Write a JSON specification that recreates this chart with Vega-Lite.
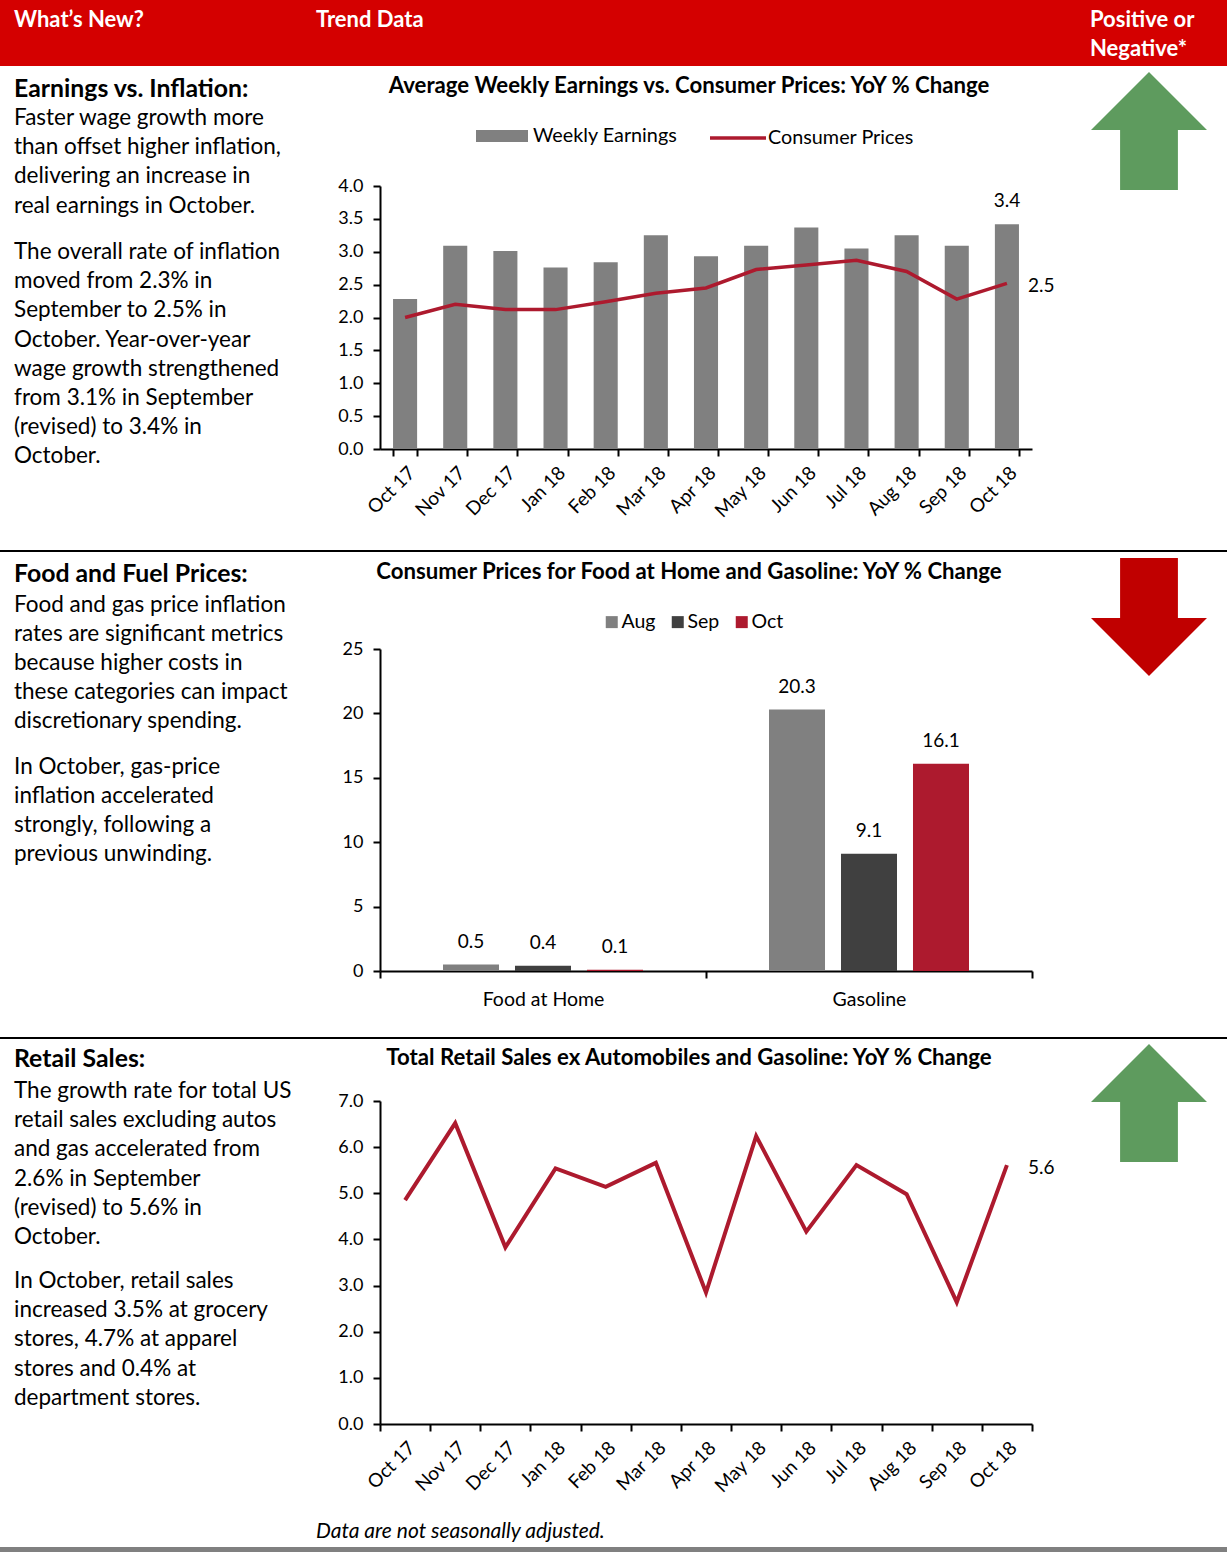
{
  "$schema": "https://vega.github.io/schema/vega-lite/v6.json",
  "width": 1227,
  "height": 1552,
  "autosize": {"type": "none"},
  "padding": 0,
  "background": "#ffffff",
  "config": {
    "view": {"stroke": null},
    "font": "Lato",
    "axis": {"domainColor": "#000000", "domainWidth": 2, "tickColor": "#000000", "tickWidth": 2, "tickSize": 7, "labelColor": "#000000", "labelFontSize": 16, "labelFont": "Lato", "grid": false},
    "legend": {"labelFont": "Lato", "labelFontSize": 18, "labelColor": "#000000", "padding": 0}
  },
  "datasets": {
    "notes": [
      {"section": 1, "part": "heading", "text": "Earnings vs. Inflation:"},
      {"section": 1, "part": "p1", "text": "Faster wage growth more\nthan offset higher inflation,\ndelivering an increase in\nreal earnings in October."},
      {"section": 1, "part": "p2", "text": "The overall rate of inflation\nmoved from 2.3% in\nSeptember to 2.5% in\nOctober. Year-over-year\nwage growth strengthened\nfrom 3.1% in September\n(revised) to 3.4% in\nOctober."},
      {"section": 2, "part": "heading", "text": "Food and Fuel Prices:"},
      {"section": 2, "part": "p1", "text": "Food and gas price inflation\nrates are significant metrics\nbecause higher costs in\nthese categories can impact\ndiscretionary spending."},
      {"section": 2, "part": "p2", "text": "In October, gas-price\ninflation accelerated\nstrongly, following a\nprevious unwinding."},
      {"section": 3, "part": "heading", "text": "Retail Sales:"},
      {"section": 3, "part": "p1", "text": "The growth rate for total US\nretail sales excluding autos\nand gas accelerated from\n2.6% in September\n(revised) to 5.6% in\nOctober."},
      {"section": 3, "part": "p2", "text": "In October, retail sales\nincreased 3.5% at grocery\nstores, 4.7% at apparel\nstores and 0.4% at\ndepartment stores."}
    ],
    "earnings": [
      {"month": "Oct 17", "series": "Weekly Earnings", "value": 2.28},
      {"month": "Nov 17", "series": "Weekly Earnings", "value": 3.09},
      {"month": "Dec 17", "series": "Weekly Earnings", "value": 3.01},
      {"month": "Jan 18", "series": "Weekly Earnings", "value": 2.76},
      {"month": "Feb 18", "series": "Weekly Earnings", "value": 2.84},
      {"month": "Mar 18", "series": "Weekly Earnings", "value": 3.25},
      {"month": "Apr 18", "series": "Weekly Earnings", "value": 2.93},
      {"month": "May 18", "series": "Weekly Earnings", "value": 3.09},
      {"month": "Jun 18", "series": "Weekly Earnings", "value": 3.37},
      {"month": "Jul 18", "series": "Weekly Earnings", "value": 3.05},
      {"month": "Aug 18", "series": "Weekly Earnings", "value": 3.25},
      {"month": "Sep 18", "series": "Weekly Earnings", "value": 3.09},
      {"month": "Oct 18", "series": "Weekly Earnings", "value": 3.42},
      {"month": "Oct 17", "series": "Consumer Prices", "value": 2.0},
      {"month": "Nov 17", "series": "Consumer Prices", "value": 2.2},
      {"month": "Dec 17", "series": "Consumer Prices", "value": 2.12},
      {"month": "Jan 18", "series": "Consumer Prices", "value": 2.12},
      {"month": "Feb 18", "series": "Consumer Prices", "value": 2.24},
      {"month": "Mar 18", "series": "Consumer Prices", "value": 2.37},
      {"month": "Apr 18", "series": "Consumer Prices", "value": 2.45},
      {"month": "May 18", "series": "Consumer Prices", "value": 2.73},
      {"month": "Jun 18", "series": "Consumer Prices", "value": 2.8},
      {"month": "Jul 18", "series": "Consumer Prices", "value": 2.87},
      {"month": "Aug 18", "series": "Consumer Prices", "value": 2.7},
      {"month": "Sep 18", "series": "Consumer Prices", "value": 2.28},
      {"month": "Oct 18", "series": "Consumer Prices", "value": 2.52}
    ],
    "foodfuel": [
      {"category": "Food at Home", "month": "Aug", "value": 0.5},
      {"category": "Food at Home", "month": "Sep", "value": 0.4},
      {"category": "Food at Home", "month": "Oct", "value": 0.1},
      {"category": "Gasoline", "month": "Aug", "value": 20.3},
      {"category": "Gasoline", "month": "Sep", "value": 9.1},
      {"category": "Gasoline", "month": "Oct", "value": 16.1}
    ],
    "retail": [
      {"month": "Oct 17", "value": 4.85},
      {"month": "Nov 17", "value": 6.52},
      {"month": "Dec 17", "value": 3.83},
      {"month": "Jan 18", "value": 5.54},
      {"month": "Feb 18", "value": 5.14},
      {"month": "Mar 18", "value": 5.66},
      {"month": "Apr 18", "value": 2.85},
      {"month": "May 18", "value": 6.24},
      {"month": "Jun 18", "value": 4.17},
      {"month": "Jul 18", "value": 5.61},
      {"month": "Aug 18", "value": 4.98},
      {"month": "Sep 18", "value": 2.64},
      {"month": "Oct 18", "value": 5.61}
    ]
  },
  "layer": [
    {
      "data": {"values": [{"band": "header"}]},
      "mark": {"type": "rect", "color": "#D40000"},
      "encoding": {
        "y": {"field": "band", "type": "nominal", "scale": {"type": "band", "range": [0, 66], "paddingInner": 0, "paddingOuter": 0}, "axis": null}
      }
    },
    {
      "data": {"values": [{"col": 1, "label": "What’s New?"}, {"col": 2, "label": "Trend Data"}, {"col": 3, "label": "Positive or\nNegative*"}]},
      "mark": {"type": "text", "align": "left", "baseline": "alphabetic", "fontWeight": "bold", "fontSize": 22, "color": "#ffffff", "lineBreak": "\n", "lineHeight": 29},
      "encoding": {
        "x": {"field": "col", "type": "quantitative", "scale": {"domain": [1, 2, 3], "range": [14, 316, 1090], "nice": false, "zero": false}, "axis": null},
        "y": {"field": "col", "type": "ordinal", "scale": {"type": "point", "range": [27, 27]}, "axis": null},
        "text": {"field": "label"}
      }
    },
    {
      "data": {"values": [{"boundary": "after earnings"}, {"boundary": "after food and fuel"}]},
      "mark": {"type": "rule", "color": "#000000", "strokeWidth": 2},
      "encoding": {
        "y": {"field": "boundary", "type": "nominal", "sort": null, "scale": {"type": "point", "range": [551, 1038], "padding": 0}, "axis": null}
      }
    },
    {
      "data": {"values": [{"edge": "bottom"}]},
      "mark": {"type": "rule", "color": "#808080", "strokeWidth": 5},
      "encoding": {
        "y": {"field": "edge", "type": "nominal", "scale": {"type": "point", "range": [1549.5, 1549.5]}, "axis": null}
      }
    },
    {
      "data": {"name": "notes"},
      "transform": [{"filter": "datum.part === 'heading'"}],
      "mark": {"type": "text", "align": "left", "baseline": "alphabetic", "fontWeight": "bold", "fontSize": 24.8, "color": "#000000"},
      "encoding": {
        "x": {"field": "section", "type": "ordinal", "scale": {"type": "point", "range": [14, 14]}, "axis": null},
        "y": {"field": "section", "type": "ordinal", "scale": {"type": "point", "range": [97, 1067], "padding": 0}, "axis": null},
        "text": {"field": "text"}
      }
    },
    {
      "data": {"name": "notes"},
      "transform": [{"filter": "datum.part === 'p1'"}],
      "mark": {"type": "text", "align": "left", "baseline": "alphabetic", "fontSize": 22.5, "color": "#000000", "lineBreak": "\n", "lineHeight": 29.2},
      "encoding": {
        "x": {"field": "section", "type": "ordinal", "scale": {"type": "point", "range": [14, 14]}, "axis": null},
        "y": {"field": "section", "type": "ordinal", "scale": {"type": "point", "range": [125, 1098], "padding": 0}, "axis": null},
        "text": {"field": "text"}
      }
    },
    {
      "data": {"name": "notes"},
      "transform": [{"filter": "datum.part === 'p2'"}],
      "mark": {"type": "text", "align": "left", "baseline": "alphabetic", "fontSize": 22.5, "color": "#000000", "lineBreak": "\n", "lineHeight": 29.2},
      "encoding": {
        "x": {"field": "section", "type": "ordinal", "scale": {"type": "point", "range": [14, 14]}, "axis": null},
        "y": {"field": "section", "type": "ordinal", "scale": {"type": "point", "range": [259, 1288], "padding": 0}, "axis": null},
        "text": {"field": "text"}
      }
    },
    {
      "data": {"values": [
        {"section": 1, "title": "Average Weekly Earnings vs. Consumer Prices: YoY % Change"},
        {"section": 2, "title": "Consumer Prices for Food at Home and Gasoline: YoY % Change"},
        {"section": 3, "title": "Total Retail Sales ex Automobiles and Gasoline: YoY % Change"}
      ]},
      "mark": {"type": "text", "align": "center", "baseline": "alphabetic", "fontWeight": "bold", "fontSize": 22.2, "color": "#000000"},
      "encoding": {
        "x": {"field": "section", "type": "ordinal", "scale": {"type": "point", "range": [689, 689]}, "axis": null},
        "y": {"field": "section", "type": "ordinal", "scale": {"type": "point", "range": [93, 1065], "padding": 0}, "axis": null},
        "text": {"field": "title"}
      }
    },
    {
      "data": {"values": [{"note": "Data are not seasonally adjusted."}]},
      "mark": {"type": "text", "align": "left", "baseline": "alphabetic", "fontStyle": "italic", "fontSize": 21, "color": "#000000"},
      "encoding": {
        "x": {"field": "note", "type": "nominal", "scale": {"type": "point", "range": [316, 316]}, "axis": null},
        "y": {"field": "note", "type": "nominal", "scale": {"type": "point", "range": [1538, 1538]}, "axis": null},
        "text": {"field": "note"}
      }
    },
    {
      "data": {"values": [
        {"section": 1, "direction": "up", "signal": "positive"},
        {"section": 2, "direction": "down", "signal": "negative"},
        {"section": 3, "direction": "up", "signal": "positive"}
      ]},
      "mark": {"type": "point", "filled": true, "size": 13924, "strokeWidth": 0, "opacity": 1},
      "encoding": {
        "x": {"field": "section", "type": "ordinal", "scale": {"type": "point", "range": [1149, 1149]}, "axis": null},
        "y": {"field": "section", "type": "ordinal", "scale": {"type": "point", "range": [131, 1103], "padding": 0}, "axis": null},
        "shape": {"field": "direction", "type": "nominal", "scale": {"domain": ["up", "down"], "range": ["M0,-1L0.983,-0.017L0.49,-0.017L0.49,1L-0.49,1L-0.49,-0.017L-0.983,-0.017Z", "M-0.49,-1L0.49,-1L0.49,0.017L0.983,0.017L0,1L-0.983,0.017L-0.49,0.017Z"]}, "legend": null},
        "color": {"field": "signal", "type": "nominal", "scale": {"domain": ["positive", "negative"], "range": ["#5E9B5E", "#C00000"]}, "legend": null}
      }
    },
    {
      "data": {"name": "earnings"},
      "encoding": {
        "x": {"field": "month", "type": "ordinal", "sort": null, "scale": {"type": "band", "range": [380, 1032], "paddingInner": 0.52, "paddingOuter": 0.26},
          "axis": {"orient": "bottom", "offset": -1103, "title": null, "tickBand": "extent", "labelAngle": -45, "labelAlign": "right", "labelBaseline": "top", "labelPadding": 7, "labelFontSize": 19}},
        "y": {"field": "value", "type": "quantitative", "scale": {"domain": [0, 4], "range": [449, 186], "nice": false, "zero": true},
          "axis": {"orient": "left", "offset": -380, "title": null, "values": [0, 0.5, 1, 1.5, 2, 2.5, 3, 3.5, 4], "format": ".1f", "labelPadding": 10, "labelFontSize": 18}}
      },
      "layer": [
        {
          "transform": [{"filter": "datum.series === 'Weekly Earnings'"}],
          "mark": {"type": "bar"},
          "encoding": {
            "fill": {"datum": "Weekly Earnings", "type": "nominal", "scale": {"range": ["#808080"]},
              "legend": {"orient": "none", "legendX": 476, "legendY": 110, "title": null, "symbolType": "M-1,-0.23H1V0.23H-1Z", "symbolSize": 2704, "symbolStrokeWidth": 0, "labelOffset": 5, "labelFontSize": 19.8}}
          }
        },
        {
          "transform": [{"filter": "datum.series === 'Consumer Prices'"}],
          "mark": {"type": "line", "strokeWidth": 3.5},
          "encoding": {
            "stroke": {"datum": "Consumer Prices", "type": "nominal", "scale": {"range": ["#AD1A2E"]},
              "legend": {"orient": "none", "legendX": 708, "legendY": 108, "title": null, "symbolType": "stroke", "symbolSize": 3136, "symbolStrokeWidth": 3.5, "labelOffset": 0, "labelFontSize": 19.8}}
          }
        },
        {
          "transform": [{"filter": "datum.series === 'Weekly Earnings' && datum.month === 'Oct 18'"}],
          "mark": {"type": "text", "baseline": "middle", "dy": -23, "fontSize": 19, "color": "#000000"},
          "encoding": {"text": {"field": "value", "type": "quantitative", "format": ".1f"}}
        },
        {
          "transform": [{"filter": "datum.series === 'Consumer Prices' && datum.month === 'Oct 18'"}],
          "mark": {"type": "text", "align": "left", "baseline": "middle", "dx": 21, "dy": 3, "fontSize": 19, "color": "#000000"},
          "encoding": {"text": {"field": "value", "type": "quantitative", "format": ".1f"}}
        }
      ]
    },
    {
      "data": {"name": "foodfuel"},
      "encoding": {
        "x": {"field": "category", "type": "nominal", "sort": null, "scale": {"type": "band", "range": [380, 1032], "paddingInner": 0, "paddingOuter": 0},
          "axis": {"orient": "bottom", "offset": -581, "title": null, "tickBand": "extent", "labelAngle": 0, "labelPadding": 12, "labelFontSize": 19.5}},
        "xOffset": {"field": "month", "type": "nominal", "sort": ["Aug", "Sep", "Oct"], "scale": {"paddingInner": 0.222, "paddingOuter": 0.875}},
        "y": {"field": "value", "type": "quantitative", "scale": {"domain": [0, 25], "range": [971, 649], "nice": false},
          "axis": {"orient": "left", "offset": -380, "title": null, "values": [0, 5, 10, 15, 20, 25], "format": "d", "labelPadding": 10, "labelFontSize": 18}}
      },
      "layer": [
        {
          "mark": {"type": "bar"},
          "encoding": {
            "color": {"field": "month", "type": "nominal", "scale": {"domain": ["Aug", "Sep", "Oct"], "range": ["#808080", "#404040", "#AD1A2E"]},
              "legend": {"orient": "none", "direction": "horizontal", "legendX": 602, "legendY": 612, "title": null, "symbolType": "square", "symbolSize": 144, "symbolStrokeWidth": 0, "labelOffset": 0, "columnPadding": 12, "labelFontSize": 19.5}}
          }
        },
        {
          "mark": {"type": "text", "baseline": "middle", "dy": -23, "fontSize": 19, "color": "#000000"},
          "encoding": {"text": {"field": "value", "type": "quantitative", "format": ".1f"}}
        }
      ]
    },
    {
      "data": {"name": "retail"},
      "encoding": {
        "x": {"field": "month", "type": "ordinal", "sort": null, "scale": {"type": "band", "range": [380, 1032], "paddingInner": 0, "paddingOuter": 0},
          "axis": {"orient": "bottom", "offset": -128, "title": null, "tickBand": "extent", "labelAngle": -45, "labelAlign": "right", "labelBaseline": "top", "labelPadding": 7, "labelFontSize": 19}},
        "y": {"field": "value", "type": "quantitative", "scale": {"domain": [0, 7], "range": [1424, 1101], "nice": false},
          "axis": {"orient": "left", "offset": -380, "title": null, "values": [0, 1, 2, 3, 4, 5, 6, 7], "format": ".1f", "labelPadding": 10, "labelFontSize": 18}}
      },
      "layer": [
        {"mark": {"type": "line", "color": "#AD1A2E", "strokeWidth": 4}},
        {
          "transform": [{"filter": "datum.month === 'Oct 18'"}],
          "mark": {"type": "text", "align": "left", "baseline": "middle", "dx": 21, "dy": 3, "fontSize": 19, "color": "#000000"},
          "encoding": {"text": {"field": "value", "type": "quantitative", "format": ".1f"}}
        }
      ]
    }
  ],
  "resolve": {
    "scale": {"x": "independent", "y": "independent", "color": "independent", "fill": "independent", "stroke": "independent", "shape": "independent", "xOffset": "independent"},
    "axis": {"x": "independent", "y": "independent"},
    "legend": {"color": "independent", "fill": "independent", "stroke": "independent", "shape": "independent"}
  }
}
